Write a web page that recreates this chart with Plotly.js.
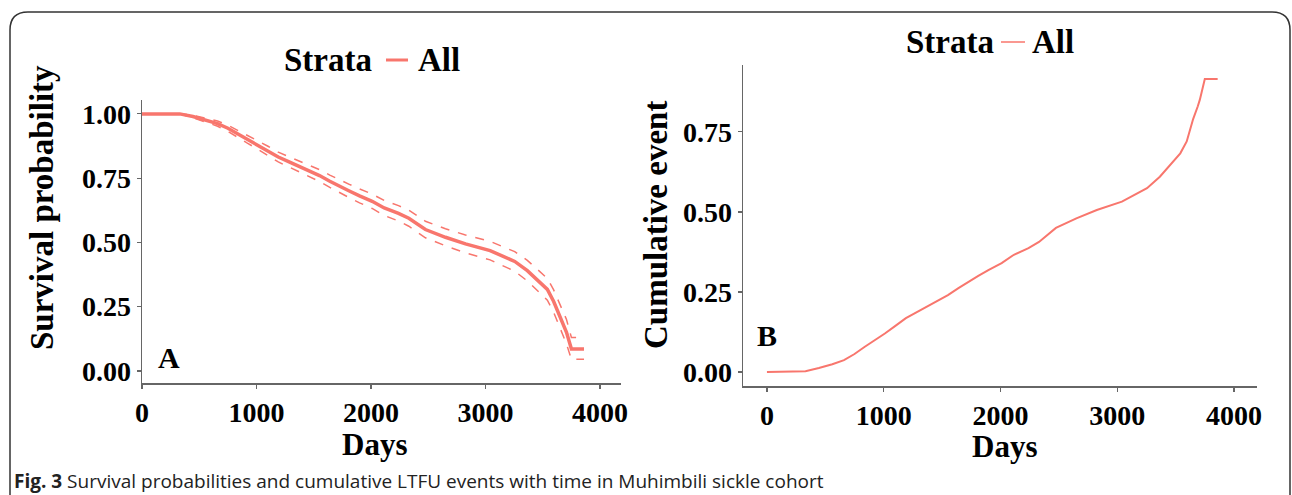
<!DOCTYPE html>
<html>
<head>
<meta charset="utf-8">
<script src="https://cdn.plot.ly/plotly-3.0.1.min.js"></script>
<style>html,body{margin:0;padding:0;background:#fff;}#chart{width:1292px;height:495px;}</style>
</head>
<body>
<div id="chart"></div>
<script>
// ---- Data ----
const days = [0, 265, 330, 445, 560, 660, 750, 835, 920, 1010, 1100, 1190, 1280, 1370, 1460, 1550, 1640, 1725, 1810, 1900, 2010, 2115, 2240, 2330, 2475, 2650, 2825, 3040, 3185, 3255, 3365, 3470, 3540, 3595, 3650, 3690, 3707, 3750, 3860];
const survival = [1, 1, 1, 0.99, 0.975, 0.962, 0.944, 0.922, 0.902, 0.88, 0.856, 0.832, 0.814, 0.796, 0.778, 0.76, 0.738, 0.718, 0.70, 0.681, 0.66, 0.634, 0.613, 0.594, 0.55, 0.52, 0.494, 0.468, 0.441, 0.426, 0.39, 0.347, 0.317, 0.27, 0.21, 0.17, 0.15, 0.085, 0.085];
const survUpper = [1, 1, 1, 0.995, 0.982, 0.972, 0.956, 0.936, 0.918, 0.897, 0.874, 0.851, 0.834, 0.817, 0.8, 0.783, 0.762, 0.743, 0.726, 0.708, 0.688, 0.663, 0.643, 0.625, 0.582, 0.553, 0.529, 0.504, 0.478, 0.464, 0.43, 0.388, 0.36, 0.315, 0.258, 0.22, 0.2, 0.13, 0.13];
const survLower = [1, 1, 1, 0.985, 0.968, 0.952, 0.932, 0.908, 0.886, 0.863, 0.838, 0.813, 0.794, 0.775, 0.756, 0.737, 0.714, 0.693, 0.674, 0.654, 0.632, 0.605, 0.583, 0.563, 0.518, 0.487, 0.459, 0.432, 0.404, 0.388, 0.35, 0.306, 0.275, 0.228, 0.165, 0.125, 0.105, 0.045, 0.045];
const cumEvent = [0, 0, 0.002, 0.012, 0.024, 0.037, 0.056, 0.078, 0.098, 0.12, 0.144, 0.168, 0.186, 0.204, 0.222, 0.24, 0.262, 0.282, 0.30, 0.319, 0.34, 0.366, 0.387, 0.406, 0.45, 0.48, 0.506, 0.532, 0.559, 0.574, 0.61, 0.653, 0.683, 0.72, 0.79, 0.83, 0.85, 0.915, 0.915];
const xTicks = [0, 1000, 2000, 3000, 4000];
const yTicksA = [0, 0.25, 0.5, 0.75, 1];
const yTickTextA = ['0.00', '0.25', '0.50', '0.75', '1.00'];
const yTicksB = [0, 0.25, 0.5, 0.75];
const yTickTextB = ['0.00', '0.25', '0.50', '0.75'];
const strataLabel = 'Strata';
const strataName = 'All';

// ---- Styling helpers ----
const W = 1292, H = 495;
const px = x => x / W;
const py = y => 1 - y / H;
const red = '#F8766D';
const serif = 'Liberation Serif, Times New Roman, serif';
const tickFont = {family: serif, size: 28, color: '#000', weight: 'bold'};
const axisCommon = {
  showgrid: false, zeroline: false, showline: true, linecolor: '#666', linewidth: 1.5,
  ticks: 'outside', ticklen: 4, tickcolor: '#666', tickwidth: 1.2,
  tickfont: tickFont, fixedrange: true
};

const traces = [
  {x: days, y: survUpper, xaxis: 'x', yaxis: 'y', mode: 'lines', line: {color: red, width: 1.5, dash: 'dash'}, hoverinfo: 'skip'},
  {x: days, y: survLower, xaxis: 'x', yaxis: 'y', mode: 'lines', line: {color: red, width: 1.5, dash: 'dash'}, hoverinfo: 'skip'},
  {x: days, y: survival, xaxis: 'x', yaxis: 'y', mode: 'lines', line: {color: red, width: 3.5}, name: strataName},
  {x: days, y: cumEvent, xaxis: 'x2', yaxis: 'y2', mode: 'lines', line: {color: red, width: 2}, name: strataName}
];

const ann = (text, x, y, size, extra) => Object.assign({
  text: text, x: px(x), y: py(y), xref: 'paper', yref: 'paper', showarrow: false,
  font: {family: serif, size: size, color: '#000', weight: 'bold'}, xanchor: 'center', yanchor: 'middle'
}, extra || {});

const border = 'M ' + px(10) + ',' + py(500) + ' L ' + px(10) + ',' + py(30) +
  ' Q ' + px(10) + ',' + py(12) + ' ' + px(28) + ',' + py(12) +
  ' L ' + px(1272) + ',' + py(12) + ' Q ' + px(1290) + ',' + py(12) + ' ' + px(1290) + ',' + py(30) +
  ' L ' + px(1290) + ',' + py(500);

const layout = {
  width: W, height: H, margin: {l: 0, r: 0, t: 0, b: 0},
  paper_bgcolor: '#fff', plot_bgcolor: '#fff', showlegend: false,
  xaxis: Object.assign({}, axisCommon, {domain: [px(142), px(621)], range: [0, 4183], tickvals: xTicks, anchor: 'y'}),
  yaxis: Object.assign({}, axisCommon, {domain: [py(383), py(100)], range: [-0.047, 1.054], tickvals: yTicksA, ticktext: yTickTextA, anchor: 'x'}),
  xaxis2: Object.assign({}, axisCommon, {domain: [px(743), px(1257)], range: [-205, 4197], tickvals: xTicks, anchor: 'y2'}),
  yaxis2: Object.assign({}, axisCommon, {domain: [py(386), py(65)], range: [-0.044, 0.959], tickvals: yTicksB, ticktext: yTickTextB, anchor: 'x2'}),
  annotations: [
    ann('Survival probability', 42, 208, 33, {textangle: -90}),
    ann('Days', 374, 444, 31, {borderpad: 0}),
    ann('Cumulative event', 656, 225, 33, {textangle: -90}),
    ann('Days', 1004, 446, 31, {borderpad: 0}),
    ann('A', 169, 357, 30),
    ann('B', 767, 335, 30),
    ann(strataLabel, 374, 60, 33, {xanchor: 'right'}),
    ann(strataName, 416, 60, 33, {xanchor: 'left'}),
    ann(strataLabel, 996, 42, 33, {xanchor: 'right'}),
    ann(strataName, 1030, 42, 33, {xanchor: 'left'}),
    {text: '<b>Fig. 3</b> Survival probabilities and cumulative LTFU events with time in Muhimbili sickle cohort',
     x: px(12), y: py(481), xref: 'paper', yref: 'paper', showarrow: false, xanchor: 'left', yanchor: 'middle',
     font: {family: 'Open Sans, sans-serif', size: 19, color: '#222'}}
  ],
  shapes: [
    {type: 'path', path: border, xref: 'paper', yref: 'paper', line: {color: '#333', width: 1.5}},
    {type: 'line', xref: 'paper', yref: 'paper', x0: px(386), x1: px(408), y0: py(60), y1: py(60), line: {color: red, width: 3}},
    {type: 'line', xref: 'paper', yref: 'paper', x0: px(1001), x1: px(1025), y0: py(42), y1: py(42), line: {color: red, width: 1.5}}
  ]
};

Plotly.newPlot('chart', traces, layout, {staticPlot: true, displayModeBar: false});
</script>
</body>
</html>
